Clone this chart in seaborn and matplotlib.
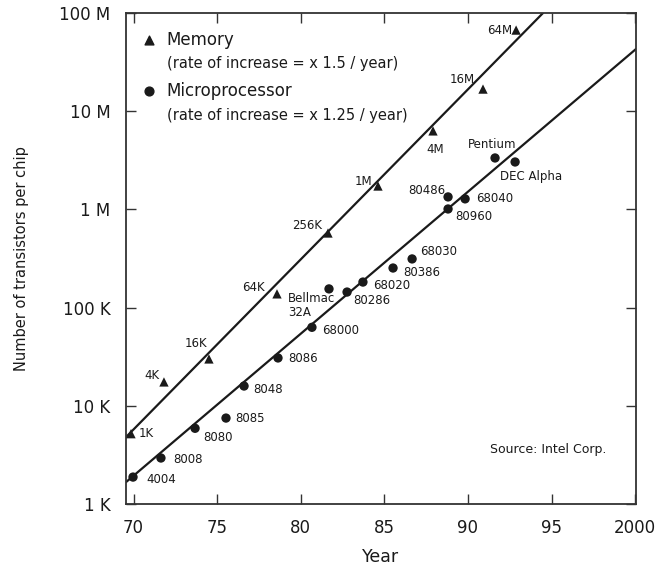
import matplotlib
matplotlib.use("Agg")
import matplotlib.pyplot as plt
import matplotlib.ticker as mticker
import numpy as np
import pandas as pd
import seaborn as sns

# ---- data -------------------------------------------------------------
mem_names = ["1K", "4K", "16K", "64K", "256K", "1M", "4M", "16M", "64M"]
mem_year = [69.85, 71.82, 74.51, 78.58, 81.63, 84.62, 87.91, 90.90, 92.88]
mem_count = [5.2e3, 1.75e4, 3.0e4, 1.38e5, 5.75e5, 1.73e6, 6.3e6, 1.68e7, 6.7e7]

cpu_names = ["4004", "8008", "8080", "8085", "8048", "8086", "68000",
             "Bellmac\n32A", "80286", "68020", "80386", "68030",
             "80486", "68040", "80960", "Pentium", "DEC Alpha"]
cpu_year = [69.97, 71.64, 73.68, 75.53, 76.61, 78.64, 80.67,
            81.69, 82.77, 83.72, 85.52, 86.66,
            88.81, 89.83, 88.81, 91.62, 92.82]
cpu_count = [1.88e3, 2.94e3, 5.9e3, 7.5e3, 1.59e4, 3.07e4, 6.3e4,
             1.55e5, 1.44e5, 1.82e5, 2.53e5, 3.13e5,
             1.34e6, 1.28e6, 1.01e6, 3.34e6, 3.04e6]

# trend lines (end points)
mem_trend_year = [69.55, 94.49]
mem_trend_count = [4.8e3, 1.0e8]
cpu_trend_year = [69.55, 100.05]
cpu_trend_count = [1.67e3, 4.3e7]

x_ticks = [70, 75, 80, 85, 90, 95, 100]
x_tick_labels = ["70", "75", "80", "85", "90", "95", "2000"]
y_ticks = [1e3, 1e4, 1e5, 1e6, 1e7, 1e8]
y_tick_labels = ["1 K", "10 K", "100 K", "1 M", "10 M", "100 M"]

# label placement (offset in pixels, horizontal alignment, vertical alignment)
mem_label_pos = [(8, 0, "left", "center"), (-4, 6, "right", "center"),
                 (-13, 15, "center", "center"), (-12, 6, "right", "center"),
                 (-6, 8, "right", "center"), (-6, 5, "right", "center"),
                 (2, -19, "center", "center"), (-8, 10, "right", "center"),
                 (-4, 0, "right", "center")]
cpu_label_pos = [(13, -2, "left", "center"), (12, -1, "left", "center"),
                 (8, -9, "left", "center"), (9, 0, "left", "center"),
                 (9, -3, "left", "center"), (10, -1, "left", "center"),
                 (10, -3, "left", "center"), (-41, -3, "left", "top"),
                 (6, -8, "left", "center"), (10, -3, "left", "center"),
                 (10, -4, "left", "center"), (8, 7, "left", "center"),
                 (-3, 6, "right", "center"), (11, 0, "left", "center"),
                 (7, -8, "left", "center"), (-3, 13, "center", "center"),
                 (-15, -15, "left", "center")]

mem_df = pd.DataFrame({"year": mem_year, "count": mem_count, "name": mem_names})
cpu_df = pd.DataFrame({"year": cpu_year, "count": cpu_count, "name": cpu_names})
mem_line = pd.DataFrame({"year": mem_trend_year, "count": mem_trend_count})
cpu_line = pd.DataFrame({"year": cpu_trend_year, "count": cpu_trend_count})

# ---- figure -----------------------------------------------------------
sns.set_theme(style="ticks")
plt.rcParams["font.family"] = ["DejaVu Sans"]
ink = "#1a1a1a"

fig = plt.figure(figsize=(6.65, 5.78), dpi=100)
ax = fig.add_axes([126 / 665, 1 - 504 / 578, 510 / 665, 491 / 578])
ax.set_yscale("log")

sns.lineplot(data=mem_line, x="year", y="count", ax=ax, color=ink, lw=1.6)
sns.lineplot(data=cpu_line, x="year", y="count", ax=ax, color=ink, lw=1.6)
sns.scatterplot(data=mem_df, x="year", y="count", ax=ax, marker="^",
                color=ink, s=45, edgecolor="none", zorder=3)
sns.scatterplot(data=cpu_df, x="year", y="count", ax=ax, marker="o",
                color=ink, s=45, edgecolor="none", zorder=3)

for (name, xv, yv), (dx, dy, ha, va) in zip(
        zip(mem_names, mem_year, mem_count), mem_label_pos):
    ax.annotate(name, (xv, yv), xytext=(dx * 0.72, dy * 0.72),
                textcoords="offset points", ha=ha, va=va,
                fontsize=8.5, color=ink)
for (name, xv, yv), (dx, dy, ha, va) in zip(
        zip(cpu_names, cpu_year, cpu_count), cpu_label_pos):
    ax.annotate(name, (xv, yv), xytext=(dx * 0.72, dy * 0.72),
                textcoords="offset points", ha=ha, va=va,
                fontsize=8.5, color=ink, linespacing=1.1)

# key in the upper-left corner
ax.scatter([0.045], [0.945], marker="^", s=40, color=ink,
           transform=ax.transAxes, clip_on=False)
ax.scatter([0.045], [0.841], marker="o", s=40, color=ink,
           transform=ax.transAxes, clip_on=False)
ax.text(0.080, 0.945, "Memory", transform=ax.transAxes, fontsize=12,
        va="center", ha="left", color=ink)
ax.text(0.080, 0.898, "(rate of increase = x 1.5 / year)",
        transform=ax.transAxes, fontsize=10.5, va="center", ha="left", color=ink)
ax.text(0.080, 0.841, "Microprocessor", transform=ax.transAxes, fontsize=12,
        va="center", ha="left", color=ink)
ax.text(0.080, 0.792, "(rate of increase = x 1.25 / year)",
        transform=ax.transAxes, fontsize=10.5, va="center", ha="left", color=ink)
ax.text(0.714, 0.110, "Source: Intel Corp.", transform=ax.transAxes,
        fontsize=9, va="center", ha="left", color=ink)

ax.set_xlim(69.55, 100.05)
ax.set_ylim(1e3, 1e8)
ax.set_xticks(x_ticks)
ax.set_xticklabels(x_tick_labels)
ax.yaxis.set_major_locator(mticker.FixedLocator(y_ticks))
ax.yaxis.set_minor_locator(mticker.NullLocator())
ax.set_yticklabels(y_tick_labels)
ax.tick_params(axis="both", direction="in", length=7, width=1.0,
               colors="#333333", labelcolor=ink, labelsize=12,
               top=True, right=True)
ax.tick_params(axis="x", pad=11)
ax.tick_params(axis="y", pad=11)
for sp in ax.spines.values():
    sp.set_visible(True)
    sp.set_color("#333333")
    sp.set_linewidth(1.3)

ax.set_xlabel("Year", fontsize=12.5, color=ink, labelpad=8)
ax.set_ylabel("Number of transistors per chip", fontsize=10.5, color=ink,
              labelpad=22)

fig.savefig("out.png", dpi=100, facecolor="white")
